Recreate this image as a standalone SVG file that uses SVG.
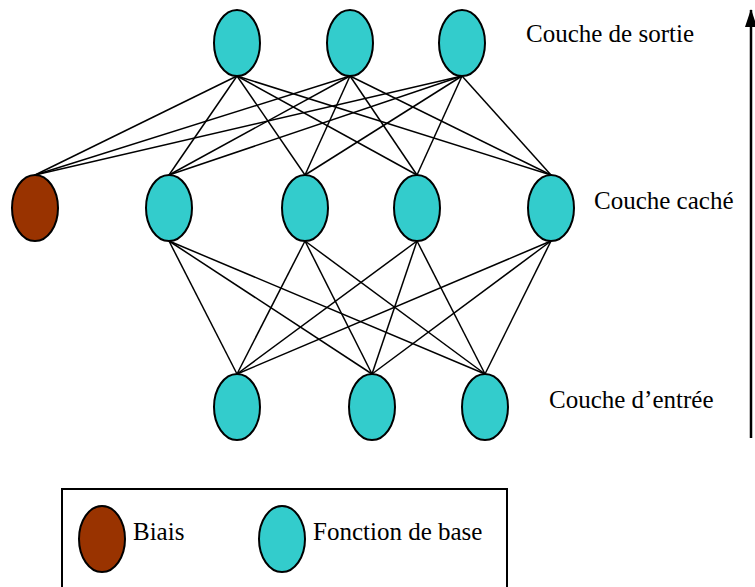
<svg xmlns="http://www.w3.org/2000/svg" width="755" height="587" viewBox="0 0 755 587">
<style>
.n{fill:#33CCCC;stroke:#000;stroke-width:2}
.b{fill:#993300;stroke:#000;stroke-width:2}
.c line{stroke:#000;stroke-width:1.5}
text{font-family:"Liberation Serif","Times New Roman",serif;font-size:25px;fill:#000}
</style>
<defs>
<marker id="ah" markerWidth="18" markerHeight="12" refX="17" refY="6" orient="auto" markerUnits="userSpaceOnUse" viewBox="0 0 18 12"><path d="M0,0 L18,6 L0,12 Z" fill="#000"/></marker>
</defs>
<rect width="755" height="587" fill="#fff"/>
<g class="c" id="connectors">
<line x1="35" y1="175" x2="237" y2="76"/>
<line x1="35" y1="175" x2="350" y2="76"/>
<line x1="35" y1="175" x2="462" y2="76"/>
<line x1="169" y1="175" x2="237" y2="76"/>
<line x1="169" y1="175" x2="350" y2="76"/>
<line x1="169" y1="175" x2="462" y2="76"/>
<line x1="305" y1="175" x2="237" y2="76"/>
<line x1="305" y1="175" x2="350" y2="76"/>
<line x1="305" y1="175" x2="462" y2="76"/>
<line x1="417" y1="175" x2="237" y2="76"/>
<line x1="417" y1="175" x2="350" y2="76"/>
<line x1="417" y1="175" x2="462" y2="76"/>
<line x1="551" y1="175" x2="237" y2="76"/>
<line x1="551" y1="175" x2="350" y2="76"/>
<line x1="551" y1="175" x2="462" y2="76"/>
<line x1="237" y1="374" x2="169" y2="241"/>
<line x1="237" y1="374" x2="305" y2="241"/>
<line x1="237" y1="374" x2="417" y2="241"/>
<line x1="237" y1="374" x2="551" y2="241"/>
<line x1="372" y1="374" x2="169" y2="241"/>
<line x1="372" y1="374" x2="305" y2="241"/>
<line x1="372" y1="374" x2="417" y2="241"/>
<line x1="372" y1="374" x2="551" y2="241"/>
<line x1="485" y1="374" x2="169" y2="241"/>
<line x1="485" y1="374" x2="305" y2="241"/>
<line x1="485" y1="374" x2="417" y2="241"/>
<line x1="485" y1="374" x2="551" y2="241"/>
<line x1="751" y1="438" x2="751" y2="10" style="stroke-width:2.5" marker-end="url(#ah)"/>
</g>
<g id="out1"><ellipse class="n" cx="237" cy="43" rx="23" ry="33"/></g>
<g id="out2"><ellipse class="n" cx="350" cy="43" rx="23" ry="33"/></g>
<g id="out3"><ellipse class="n" cx="462" cy="43" rx="23" ry="33"/></g>
<g id="bias"><ellipse class="b" cx="35" cy="208" rx="23" ry="33"/></g>
<g id="hid1"><ellipse class="n" cx="169" cy="208" rx="23" ry="33"/></g>
<g id="hid2"><ellipse class="n" cx="305" cy="208" rx="23" ry="33"/></g>
<g id="hid3"><ellipse class="n" cx="417" cy="208" rx="23" ry="33"/></g>
<g id="hid4"><ellipse class="n" cx="551" cy="208" rx="23" ry="33"/></g>
<g id="in1"><ellipse class="n" cx="237" cy="407" rx="23" ry="33"/></g>
<g id="in2"><ellipse class="n" cx="372" cy="407" rx="23" ry="33"/></g>
<g id="in3"><ellipse class="n" cx="485" cy="407" rx="23" ry="33"/></g>
<g id="labels">
<text x="526" y="42">Couche de sortie</text>
<text x="594" y="209">Couche caché</text>
<text x="549" y="408">Couche d’entrée</text>
</g>
<g id="legend">
<rect x="62" y="489" width="445" height="110" fill="#fff" stroke="#000" stroke-width="2"/>
<ellipse class="b" cx="102" cy="539" rx="23" ry="33"/>
<text x="133" y="540">Biais</text>
<ellipse class="n" cx="282" cy="539" rx="23" ry="33"/>
<text x="313" y="540">Fonction de base</text>
</g>
</svg>
